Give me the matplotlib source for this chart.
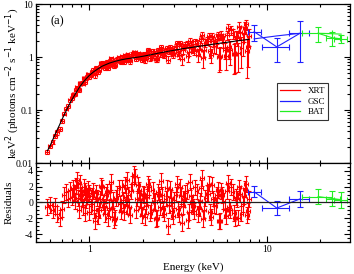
import matplotlib
matplotlib.use("Agg")
import matplotlib.pyplot as plt
from matplotlib.ticker import FixedLocator, FuncFormatter, LogLocator, NullFormatter, MultipleLocator
from matplotlib.lines import Line2D
import numpy as np

plt.rcParams['font.family'] = ['Liberation Serif', 'DejaVu Serif']
plt.rcParams['axes.unicode_minus'] = False

# ---------------- data ----------------
xrt_energy = [0.58, 0.60, 0.62, 0.64, 0.66, 0.68, 0.70, 0.72, 0.74, 0.76, 0.78, 0.80, 0.82, 0.84,
              0.86, 0.88, 0.90, 0.92, 0.94, 0.96, 0.98, 1.00, 1.03, 1.06, 1.09, 1.12, 1.15, 1.18,
              1.21, 1.24, 1.27, 1.30, 1.34, 1.38, 1.42, 1.46, 1.50, 1.54, 1.58, 1.62, 1.66, 1.70,
              1.75, 1.80, 1.85, 1.90, 1.95, 2.00, 2.06, 2.12, 2.18, 2.24, 2.30, 2.37, 2.44, 2.51,
              2.58, 2.65, 2.73, 2.81, 2.89, 2.97, 3.06, 3.15, 3.24, 3.33, 3.43, 3.53, 3.63, 3.74,
              3.85, 3.96, 4.08, 4.20, 4.32, 4.45, 4.58, 4.72, 4.86, 5.00, 5.15, 5.30, 5.46, 5.62,
              5.79, 5.96, 6.14, 6.32, 6.51, 6.70, 6.90, 7.10, 7.31, 7.52, 7.74, 7.95,
              0.81, 0.83, 0.85, 0.87, 0.89, 0.91, 0.93, 0.95, 0.97, 0.99,
              1.015, 1.045, 1.075, 1.105, 1.135, 1.165, 1.195, 1.225, 1.255, 1.285, 1.32, 1.36,
              1.40, 1.44, 1.48, 1.52, 1.56, 1.60, 1.64, 1.68, 1.725, 1.775, 1.825, 1.875, 1.925,
              1.975, 2.03, 2.09, 2.15, 2.21, 2.27, 2.335, 2.405, 2.475, 2.545, 2.615, 2.69, 2.77,
              2.85, 2.93, 3.015, 3.105, 3.195, 3.285, 3.38, 3.48, 3.58, 3.685, 3.795, 3.905, 4.02,
              4.14, 4.26, 4.385, 4.515, 4.65, 4.79, 4.93, 5.075, 5.225, 5.38, 5.54, 5.705, 5.875,
              6.05, 6.23, 6.415, 6.605, 6.80, 7.00, 7.205, 7.415, 7.63, 7.85]
xrt_flux = [0.0162, 0.0205, 0.0248, 0.0329, 0.0378, 0.0445, 0.0618, 0.0850, 0.1058, 0.1192,
            0.1523, 0.1678, 0.2005, 0.2409, 0.2501, 0.3173, 0.321, 0.3161, 0.3978, 0.3982,
            0.470, 0.412, 0.521, 0.492, 0.625, 0.518, 0.660, 0.772, 0.672, 0.772,
            0.626, 0.856, 0.744, 0.676, 0.880, 0.984, 0.803, 0.916, 1.070, 0.895,
            1.010, 0.824, 1.144, 1.232, 1.030, 1.128, 0.958, 1.121, 0.861, 1.145,
            1.308, 0.999, 1.153, 0.916, 1.333, 1.128, 1.330, 1.066, 1.499, 1.251,
            1.389, 1.104, 1.550, 1.225, 1.805, 0.909, 1.531, 1.779, 1.240, 1.679,
            1.423, 1.962, 1.106, 1.664, 2.624, 1.345, 2.058, 2.501, 1.101, 1.978,
            1.586, 2.549, 1.050, 2.283, 1.384, 2.578, 1.540, 3.220, 1.125, 2.462,
            1.200, 2.997, 1.905, 3.599, 1.300, 2.511,
            0.1937, 0.1998, 0.2691, 0.2389, 0.3129, 0.3260, 0.3933, 0.3409, 0.4277, 0.4715,
            0.451, 0.571, 0.449, 0.613, 0.570, 0.765, 0.685, 0.625, 0.809, 0.716, 0.946, 0.827,
            0.704, 0.925, 0.856, 1.023, 0.816, 0.969, 1.138, 0.895, 1.060, 1.247, 0.904, 1.170,
            1.040, 0.891,
            1.134, 1.018, 1.339, 0.957, 1.299, 1.156, 0.936, 1.309, 1.537, 1.132, 1.318, 0.896,
            1.521, 1.175, 1.401, 1.811, 1.102, 1.579, 1.339, 1.705, 1.024, 2.046, 1.520, 1.303,
            1.872,
            1.367, 2.190, 0.945, 1.848, 2.044, 1.296, 2.498, 1.623, 2.203, 1.000, 2.558, 1.957,
            1.049, 3.477, 1.357, 2.794, 1.150, 2.281, 3.668, 1.500, 2.792, 4.158, 1.550]
xrt_err = [0.0014, 0.0017, 0.0022, 0.0027, 0.0034, 0.0042, 0.0053,
           0.0056, 0.0068, 0.0081, 0.0096, 0.0112, 0.0130, 0.0147, 0.0168, 0.0189, 0.021,
           0.0231, 0.0252, 0.0273, 0.0294, 0.0315,
           0.039, 0.042, 0.046, 0.048, 0.051, 0.054, 0.056, 0.058, 0.060, 0.062, 0.064, 0.066,
           0.067, 0.069, 0.070, 0.072, 0.073, 0.074, 0.075, 0.076, 0.077, 0.078, 0.079, 0.080,
           0.081, 0.082,
           0.105, 0.107, 0.109, 0.111, 0.113, 0.116, 0.118, 0.120, 0.122, 0.124, 0.127, 0.129,
           0.131, 0.133,
           0.190, 0.193, 0.197, 0.200, 0.203, 0.206, 0.209, 0.211, 0.214, 0.217,
           0.316, 0.320, 0.324, 0.328, 0.332, 0.338, 0.344,
           0.455, 0.460, 0.468, 0.476, 0.481, 0.486, 0.491,
           0.634, 0.640, 0.650, 0.660, 0.670,
           0.861, 0.874, 0.882, 0.895, 0.895,
           0.0120, 0.0138, 0.0158, 0.0179, 0.0200, 0.0221, 0.0242, 0.0263, 0.0284, 0.0305,
           0.038, 0.041, 0.044, 0.047, 0.050, 0.052, 0.055, 0.057, 0.059, 0.061, 0.063, 0.065,
           0.066, 0.068, 0.070, 0.071, 0.072, 0.073, 0.074, 0.075, 0.076, 0.077, 0.079, 0.080,
           0.081, 0.082,
           0.104, 0.106, 0.108, 0.110, 0.112, 0.115, 0.117, 0.119, 0.121, 0.123, 0.126, 0.128,
           0.130, 0.132, 0.188, 0.192, 0.195, 0.199, 0.202, 0.204, 0.207, 0.210, 0.213, 0.216,
           0.219,
           0.318, 0.322, 0.326, 0.330, 0.335, 0.341, 0.347, 0.458, 0.464, 0.472, 0.478, 0.484,
           0.489, 0.629, 0.637, 0.645, 0.655, 0.665, 0.857, 0.867, 0.878, 0.888, 0.899]
xrt_resid = [-0.6, -0.3, -1.0, -0.4, -1.5, -2.0, -0.8, 0.9, 1.3, 0.4, 1.6, 0.7, 1.2, 2.1,
             0.6, 2.5, 1.0, -0.6, 1.5, 0.3, 1.7, -1.2, 0.8, -0.9, 1.2, -1.7, 0.4, 1.9,
             -0.5, 0.9, -2.0, 1.4, -0.8, -2.2, 0.6, 1.8, -1.1, 0.3, 2.2, -0.4, 1.0, -1.6,
             2.4, 3.3, 0.5, 1.6, -0.7, 1.1, -1.8, 0.7, 2.0, -1.0, 0.2, -2.1, 1.3, -0.6,
             0.9, -1.4, 1.8, -0.3, 0.6, -1.7, 1.0, -0.8, 2.0, -2.6, 0.4, 1.5, -1.2, 0.8,
             -0.5, 1.9, -1.5, 0.2, 3.1, -0.9, 1.2, 2.4, -1.8, 0.5, -0.4, 1.6, -2.3, 0.9,
             -1.0, 1.4, -0.6, 2.0, -1.3, 0.7, -1.9, 1.1, -0.2, 1.7, -1.6, 0.4,
             1.8, 0.2, 2.8, -0.9, 1.4, 0.5, 2.0, -1.3, 0.8, 1.2,
             -0.5, 1.5, -2.3, 0.6, -1.0, 2.1, 0.0, -1.5, 1.3, -0.7, 2.6, 0.3, -1.9, 1.1,
             -0.2, 1.9, -1.2, 0.7, 2.8, -0.6, 1.4, 3.6, -1.0, 2.2, 0.4, -1.6,
             0.9, -0.4, 2.4, -1.3, 1.6, 0.1, -2.0, 1.0, 2.7, -0.8, 0.5, -3.0, 1.7, -1.1,
             0.3, 2.3, -1.5, 0.8, -0.5, 1.2, -2.2, 2.6, 0.0, -1.1, 1.4,
             -0.7, 1.8, -2.1, 0.6, 1.1, -1.2, 2.2, -0.3, 0.9, -2.4, 1.5, 0.2, -1.7, 2.5,
             -0.9, 1.3, -2.0, 0.4, 1.9, -1.4, 0.8, 2.3, -1.1]

model_energy = [0.58, 0.60, 0.62, 0.64, 0.66, 0.68, 0.70, 0.72, 0.74, 0.76, 0.78, 0.80, 0.84,
                0.88, 0.92, 0.96, 1.00, 1.06, 1.12, 1.18, 1.24, 1.30, 1.40, 1.50, 1.62, 1.75,
                1.90, 2.06, 2.24, 2.44, 2.65, 2.89, 3.15, 3.43, 3.74, 4.08, 4.45, 4.86, 5.30,
                5.79, 6.32, 6.90, 7.52, 7.95]
model_flux = [0.017, 0.021, 0.027, 0.034, 0.043, 0.053, 0.066, 0.080, 0.097, 0.116, 0.137,
              0.160, 0.210, 0.270, 0.330, 0.390, 0.450, 0.530, 0.600, 0.670, 0.720, 0.770,
              0.830, 0.880, 0.925, 0.960, 1.000, 1.050, 1.110, 1.180, 1.240, 1.310, 1.380,
              1.450, 1.510, 1.580, 1.640, 1.720, 1.800, 1.870, 1.940, 2.030, 2.100, 2.150]

gsc_energy = [8.5, 11.4, 15.4]
gsc_elo = [0.7, 2.05, 2.0]
gsc_ehi = [0.8, 2.0, 2.0]
gsc_flux = [3.0, 1.55, 2.8]
gsc_err = [1.0, 0.75, 2.0]
gsc_model = [2.2, 2.5, 2.8]
gsc_resid = [1.35, -0.7, 0.45]
gsc_rerr = [0.7, 0.9, 1.0]

bat_energy = [19.5, 23.5, 26.3]
bat_elo = [3.6, 1.9, 2.4]
bat_ehi = [3.9, 2.5, 2.0]
bat_flux = [2.8, 2.3, 2.2]
bat_err = [0.85, 0.7, 0.4]
bat_model = [2.8, 2.75, 2.7]
bat_resid = [0.75, 0.5, 0.35]
bat_rerr = [0.95, 1.0, 1.0]

# ---------------- figure ----------------
fig = plt.figure(figsize=(3.54, 2.74), dpi=100)
ax1 = fig.add_axes([0.1017, 0.4051, 0.887, 0.5803])
ax2 = fig.add_axes([0.1017, 0.1168, 0.887, 0.2883], sharex=ax1)

red = '#ff0000'
blue = '#2020ff'
green = '#22ee22'

xe = np.asarray(xrt_energy)
xerr_x = xe * 0.025

ax1.errorbar(xrt_energy, xrt_flux, yerr=xrt_err, xerr=xerr_x, fmt='none', ecolor=red,
             elinewidth=0.8, capsize=1.6, capthick=0.8, zorder=2)
ax1.plot(model_energy, model_flux, color='black', lw=0.8, zorder=4)
ax1.errorbar(gsc_energy, gsc_flux, yerr=gsc_err, xerr=[gsc_elo, gsc_ehi], fmt='-',
             color=blue, elinewidth=0.8, lw=0.8, capsize=2.5, capthick=0.8, zorder=3)
ax1.plot(gsc_energy, gsc_model, color=blue, lw=0.8, zorder=3)
ax1.errorbar(bat_energy, bat_flux, yerr=bat_err, xerr=[bat_elo, bat_ehi], fmt='-',
             color=green, elinewidth=0.8, lw=0.8, capsize=2.5, capthick=0.8, zorder=3)
ax1.plot(bat_energy, bat_model, color=green, lw=0.8, zorder=3)

ax2.errorbar(xrt_energy, xrt_resid, yerr=1.0, xerr=xerr_x, fmt='none', ecolor=red,
             elinewidth=0.8, capsize=1.6, capthick=0.8, zorder=2)
ax2.errorbar(gsc_energy, gsc_resid, yerr=gsc_rerr, xerr=[gsc_elo, gsc_ehi], fmt='-',
             color=blue, elinewidth=0.8, lw=0.8, capsize=2.5, capthick=0.8, zorder=3)
ax2.errorbar(bat_energy, bat_resid, yerr=bat_rerr, xerr=[bat_elo, bat_ehi], fmt='-',
             color=green, elinewidth=0.8, lw=0.8, capsize=2.5, capthick=0.8, zorder=3)
ax2.axhline(0, color='#202020', lw=0.9, zorder=4)

# legend
handles = [Line2D([], [], color=red, lw=0.9), Line2D([], [], color=blue, lw=0.9),
           Line2D([], [], color=green, lw=0.9)]
leg = ax1.legend(handles, ['XRT', 'GSC', 'BAT'], loc='upper left',
                 bbox_to_anchor=(0.752, 0.53), fontsize=6.5, frameon=True, fancybox=False,
                 edgecolor='black', handlelength=2.2, handletextpad=0.8, borderpad=0.4,
                 labelspacing=0.25)
leg.get_frame().set_linewidth(0.8)

# axes styling
for ax in (ax1, ax2):
    ax.set_xscale('log')
    ax.set_xlim(0.5, 29.5)
    for s in ax.spines.values():
        s.set_linewidth(0.9)
    ax.tick_params(which='both', direction='in', top=True, right=True, width=0.8,
                   labelsize=7, pad=2)
    ax.tick_params(which='major', length=4)
    ax.tick_params(which='minor', length=2)
    ax.xaxis.set_major_locator(FixedLocator([1, 10]))
    ax.xaxis.set_minor_locator(FixedLocator([0.5, 0.6, 0.7, 0.8, 0.9, 2, 3, 4, 5, 6, 7, 8, 9, 20]))
    ax.xaxis.set_minor_formatter(NullFormatter())

ax1.set_yscale('log')
ax1.set_ylim(0.01, 10)
ax1.yaxis.set_major_locator(FixedLocator([0.01, 0.1, 1, 10]))
ax1.yaxis.set_minor_locator(LogLocator(base=10, subs=np.arange(2, 10), numticks=20))
ax1.yaxis.set_minor_formatter(NullFormatter())
ax1.yaxis.set_major_formatter(FuncFormatter(lambda v, p: '%g' % v))
ax1.tick_params(axis='x', labelbottom=False)
fig.text(0.010, 0.695, 'keV$^2$ (photons cm$^{-2}$ s$^{-1}$ keV$^{-1}$)', fontsize=8,
         rotation=90, ha='left', va='center')
ax1.text(0.045, 0.93, '(a)', transform=ax1.transAxes, fontsize=9, va='top', ha='left')

ax2.set_ylim(-5, 5)
ax2.yaxis.set_major_locator(FixedLocator([-4, -2, 0, 2, 4]))
ax2.yaxis.set_minor_locator(MultipleLocator(0.5))
ax2.yaxis.set_major_formatter(FuncFormatter(lambda v, p: '%d' % v))
ax2.xaxis.set_major_formatter(FuncFormatter(lambda v, p: '%g' % v))
fig.text(0.014, 0.26, 'Residuals', fontsize=8, rotation=90, ha='left', va='center')
ax2.set_xlabel('Energy (keV)', fontsize=8, labelpad=6)

fig.savefig('out.png', dpi=100)
